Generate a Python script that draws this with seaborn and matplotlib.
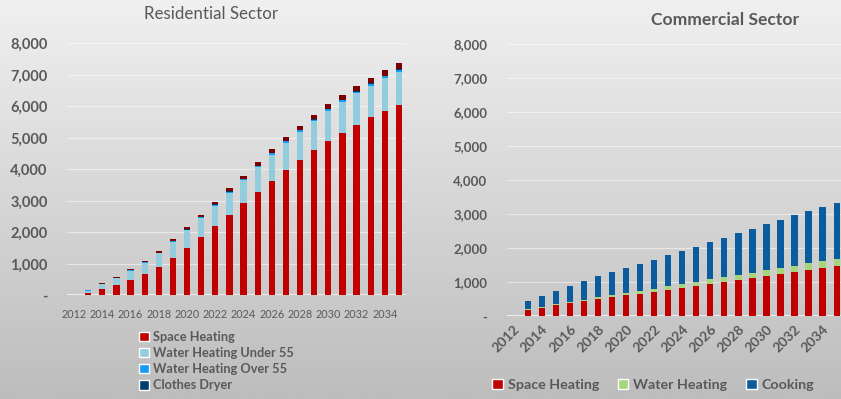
import numpy as np
import matplotlib
matplotlib.use("Agg")
import matplotlib.pyplot as plt
import seaborn as sns
from matplotlib.patches import Patch
from matplotlib.ticker import FuncFormatter, FixedLocator
from matplotlib.colors import LinearSegmentedColormap

# ---------------- data ----------------
years = [str(y) for y in range(2012, 2036)]
year_labels = [str(y) for y in range(2012, 2036, 2)]

res_space_heating = [0, 83, 190, 317, 476, 667, 909, 1184, 1502, 1841, 2190, 2565,
                     2920, 3290, 3629, 3978, 4295, 4603, 4898, 5163, 5406, 5650, 5861, 6045]
res_water_under55 = [0, 67, 158, 223, 305, 371, 421, 510, 559, 609, 653, 698,
                     735, 775, 839, 868, 899, 919, 952, 971, 1002, 1001, 1025, 1056]
res_water_over55 = [0, 5, 8, 10, 13, 15, 18, 20, 23, 26, 29, 32,
                    35, 38, 40, 43, 46, 49, 52, 55, 58, 60, 62, 65]
res_clothes_dryer = [0, 3, 4, 5, 6, 7, 8, 9, 10, 12, 13, 14,
                     15, 16, 17, 18, 19, 20, 21, 22, 23, 24, 25, 26]
res_other = [0, 10, 20, 25, 35, 40, 50, 55, 65, 72, 80, 88,
             95, 103, 110, 118, 125, 133, 140, 148, 155, 163, 170, 178]

com_space_heating = [0, 185, 255, 322, 390, 440, 499, 557, 616, 665, 724, 782,
                     841, 899, 958, 1016, 1075, 1134, 1193, 1251, 1310, 1370, 1425, 1476]
com_water_heating = [0, 20, 28, 36, 44, 52, 60, 68, 76, 84, 92, 100,
                     108, 117, 125, 133, 141, 149, 158, 166, 174, 183, 192, 202]
com_cooking = [0, 243, 312, 384, 455, 543, 614, 675, 725, 785, 846, 907,
               967, 1026, 1096, 1158, 1228, 1288, 1357, 1427, 1487, 1536, 1589, 1646]

res_labels = ["Space Heating", "Water Heating Under 55", "Water Heating Over 55",
              "Clothes Dryer", "_other"]
com_labels = ["Space Heating", "Water Heating", "Cooking"]

res_colors = ["#C00000", "#93CDDD", "#169BF5", "#003E6E", "#7A0000"]
com_colors = ["#C00000", "#A6D67A", "#0B5C9E"]

TXT = "#595959"

sns.set_theme(style="white")
plt.rcParams['font.family'] = ['Lato', 'DejaVu Sans']

fig = plt.figure(figsize=(8.41, 3.99), dpi=100)

# background gradient
bg = fig.add_axes([0, 0, 1, 1], zorder=-10)
grad = np.linspace(0, 1, 256).reshape(-1, 1)
cmap = LinearSegmentedColormap.from_list("g", ["#f0f0f0", "#bdbdbd"])
bg.imshow(grad, aspect="auto", cmap=cmap, extent=[0, 1, 0, 1])
bg.set_axis_off()

fmt = FuncFormatter(lambda v, p: "-" if v == 0 else f"{int(v):,}")


def stacked(ax, series, colors):
    cum = np.cumsum(np.array(series, dtype=float), axis=0)
    for i in range(len(series) - 1, -1, -1):
        sns.barplot(x=years, y=cum[i], color=colors[i], width=0.45, saturation=1,
                    errorbar=None, linewidth=0, ax=ax, zorder=3)
    ax.set_facecolor("none")
    for s in ax.spines.values():
        s.set_visible(False)
    ax.set_ylim(0, 8000)
    ax.set_xlim(-0.5, 23.5)
    ax.yaxis.set_major_locator(FixedLocator(range(0, 8001, 1000)))
    ax.yaxis.set_major_formatter(fmt)
    ax.yaxis.grid(True, color="white", alpha=0.5, lw=0.8, zorder=0)
    ax.set_axisbelow(True)
    ax.axhline(0, color="#f4f4f4", lw=1.2, zorder=1)
    ax.set_xticks(range(0, 24, 2))
    ax.set_xlabel("")
    ax.set_ylabel("")
    ax.tick_params(length=0)


# ---------------- Residential ----------------
ax1 = fig.add_axes([67 / 841, (399 - 295.3) / 399, 339 / 841, 252 / 399])
stacked(ax1, [res_space_heating, res_water_under55, res_water_over55,
              res_clothes_dryer, res_other], res_colors)
ax1.set_xticklabels(year_labels, fontsize=7.8, color=TXT)
ax1.tick_params(axis="x", pad=10)
ax1.tick_params(axis="y", pad=14, labelsize=10.5, labelcolor=TXT)
for t in ax1.get_yticklabels():
    t.set_fontweight("bold")
fig.text(211 / 841, 1 - 14 / 399, "Residential Sector", ha="center", va="center",
         fontsize=12.2, color=TXT)
h1 = [Patch(facecolor=c, label=l) for c, l in zip(res_colors[:4], res_labels[:4])]
leg1 = fig.legend(handles=h1, loc="center left", bbox_to_anchor=(139 / 841, 1 - 361 / 399),
                  frameon=False, fontsize=9.2, handlelength=0.75, handleheight=0.75,
                  handletextpad=0.35, labelspacing=0.33, borderaxespad=0, borderpad=0)
for t in leg1.get_texts():
    t.set_color(TXT)
    t.set_fontweight("bold")

# ---------------- Commercial ----------------
ax2 = fig.add_axes([506.6 / 841, (399 - 316.3) / 399, 337.1 / 841, 272 / 399])
stacked(ax2, [com_space_heating, com_water_heating, com_cooking], com_colors)
ax2.set_xticklabels(year_labels, fontsize=10, color=TXT, fontweight="bold",
                    rotation=45, ha="right", rotation_mode="anchor")
ax2.tick_params(axis="x", pad=5)
ax2.tick_params(axis="y", pad=14, labelsize=9.5, labelcolor=TXT)
for t in ax2.get_yticklabels():
    t.set_fontweight("bold")
fig.text(725 / 841, 1 - 20 / 399, "Commercial Sector", ha="center", va="center",
         fontsize=12.6, color=TXT, fontweight="bold")
h2 = [Patch(facecolor=c, label=l) for c, l in zip(com_colors, com_labels)]
leg2 = fig.legend(handles=h2, loc="center left", bbox_to_anchor=(492 / 841, 1 - 385 / 399),
                  ncol=3, frameon=False, fontsize=10.3, handlelength=0.75,
                  handleheight=0.75, handletextpad=0.35, columnspacing=1.3,
                  borderaxespad=0, borderpad=0)
for t in leg2.get_texts():
    t.set_color(TXT)
    t.set_fontweight("bold")

fig.savefig("out.png", dpi=100)
